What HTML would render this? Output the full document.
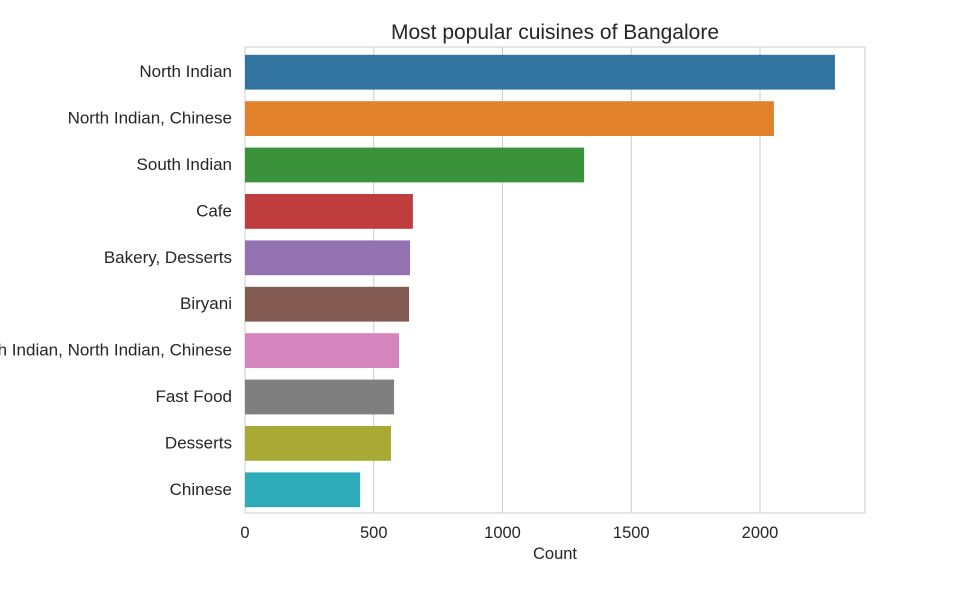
<!DOCTYPE html>
<html><head><meta charset="utf-8"><style>
body{margin:0;background:#fff;width:969px;height:587px;overflow:hidden;font-family:"Liberation Sans",sans-serif;}
</style></head><body>
<svg id="chart" width="969" height="587" xmlns="http://www.w3.org/2000/svg" font-family="Liberation Sans, sans-serif"></svg>
<script>
const categories=["North Indian","North Indian, Chinese","South Indian","Cafe","Bakery, Desserts","Biryani","South Indian, North Indian, Chinese","Fast Food","Desserts","Chinese"];
const counts=[2291,2054,1317,652,641,637,598,579,567,447];
const tickValues=[0,500,1000,1500,2000];
const colors=["#3274a1","#e1812c","#3a923a","#c03d3e","#9372b2","#845b53","#d684bd","#7f7f7f","#a9aa35","#2eabb8"];
const svg=document.getElementById('chart');
const NS="http://www.w3.org/2000/svg";
const L=245,R=865,T=49,B=513;
const xs=v=>L+v*(128.75/500);
const band=(B-T)/categories.length;
const ys=i=>T+band*i;
function mk(tag,attrs,txt){const e=document.createElementNS(NS,tag);for(const k in attrs)e.setAttribute(k,attrs[k]);if(txt!==undefined)e.textContent=txt;svg.appendChild(e);return e;}
const f=mk('rect',{x:L,y:47,width:R-L,height:B-47,fill:'none',stroke:'#cccccc','stroke-width':1});


tickValues.forEach(v=>{
  const g=mk('line',{x1:xs(v),x2:xs(v),y1:47,y2:B,stroke:'#cccccc','stroke-width':1});
  
  
  const t=mk('text',{x:xs(v),y:B+25,'text-anchor':'middle','font-size':16.5,fill:'#262626'},String(v));
  
  
});
categories.forEach((c,i)=>{
  const h=band*0.75;
  const y=ys(i)+(band-h)/2;
  const r=mk('rect',{x:L,y:y,width:xs(counts[i])-L,height:h,fill:colors[i]});
  
  
  const t=mk('text',{x:L-13,y:ys(i)+band/2+5,'text-anchor':'end','font-size':17,fill:'#262626'},c);
  
  
});
const ti=mk('text',{x:(L+R)/2,y:39,'text-anchor':'middle','font-size':21,fill:'#262626'},'Most popular cuisines of Bangalore');


const xl=mk('text',{x:(L+R)/2,y:559,'text-anchor':'middle','font-size':16.5,fill:'#262626'},'Count');


</script>
</body></html>
